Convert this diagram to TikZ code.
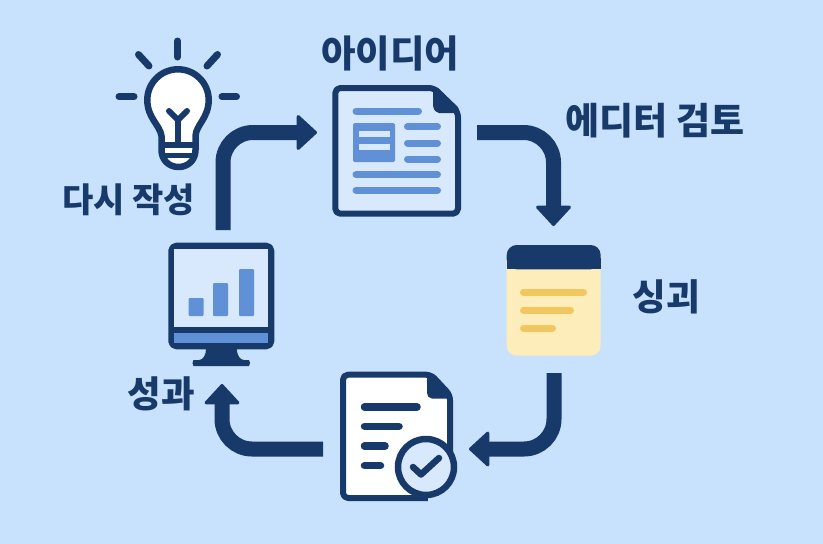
\documentclass[tikz,border=0pt]{standalone}
\usepackage{fontspec}
\newfontfamily\krfont{Noto Sans CJK KR}
\usetikzlibrary{arrows.meta}
\definecolor{bgblue}{HTML}{C8E1FD}
\definecolor{navy}{HTML}{173A6A}
\definecolor{midblue}{HTML}{6090D6}
\definecolor{paleblue}{HTML}{D9E9FD}
\definecolor{notecream}{HTML}{FDEDBB}
\definecolor{noteline}{HTML}{F3C75F}
\tikzset{
  flow/.style={draw=navy,line width=15pt,rounded corners=30pt,line cap=butt,
    -{Triangle[length=21pt,width=38pt,round,line width=3pt,color=navy]}},
  label/.style={text=navy,font=\krfont\bfseries\fontsize{#1}{#1}\selectfont,inner sep=0pt},
  outline/.style={draw=navy,line width=6pt,line join=round},
  ray/.style={draw=navy,line width=7pt,line cap=round},
  bluebar/.style={draw=midblue,line width=7pt,line cap=round},
  navybar/.style={draw=navy,line width=7.5pt,line cap=round},
  yellowbar/.style={draw=noteline,line width=7pt,line cap=round}
}
\begin{document}
\begin{tikzpicture}[x=1pt,y=-1pt]
\useasboundingbox (0,0) rectangle (823,544);
\fill[bgblue] (0,0) rectangle (823,544);

% named ends of the connectors
\coordinate (mOut) at (223,230);
\coordinate (dIn) at (317,132.5);
\coordinate (dOut) at (477,132.5);
\coordinate (nIn) at (553.5,226);
\coordinate (nOut) at (554,373);
\coordinate (cIn) at (469,449);
\coordinate (cOut) at (323,449);
\coordinate (mIn) at (222,384);

% light bulb
\draw[ray] (177.5,41) -- (177.5,57);
\draw[ray] (138.5,54.5) -- (149,66);
\draw[ray] (217.5,54.5) -- (207,66);
\draw[ray] (119,96.7) -- (134,96.7);
\draw[ray] (222,96.7) -- (236.5,96.7);
\draw[outline,line width=6.5pt,fill=white] (161.5,145) -- (161.5,136)
  .. controls (160,125) and (147.3,118) .. (147.3,100)
  arc[start angle=180,end angle=360,radius=30.7]
  .. controls (208.7,118) and (196,125) .. (195.5,136) -- (195.5,150)
  .. controls (195.5,160) and (188,167) .. (178.5,167)
  .. controls (169,167) and (161.5,160) .. (161.5,150) -- cycle;
\fill[navy] (160,141.5) rectangle (197,147.5);
\fill[navy] (160,152.5) rectangle (197,158);
\draw[navy,line width=6pt,line cap=round,line join=round] (169,111) -- (178,120) -- (187,111);
\draw[navy,line width=6pt] (178,120) -- (178,142);

% idea document
\draw[outline,fill=paleblue,rounded corners=5pt] (335.3,88) -- (434,88) -- (458,112) -- (458,213.7) -- (335.3,213.7) -- cycle;
\fill[navy,rounded corners=2pt] (433,87) -- (433,108) -- (437,113) -- (459,113) -- (459,108) -- (437,87) -- cycle;
\draw[bluebar] (356,111) -- (418.5,111);
\fill[midblue,rounded corners=1.5pt] (353,123) rectangle (395,162);
\fill[paleblue] (358.5,130.5) rectangle (389.5,137.2);
\fill[paleblue] (358.5,144) rectangle (389.5,150);
\draw[bluebar] (407.5,126.7) -- (437.5,126.7);
\draw[bluebar] (407.5,143) -- (437.5,143);
\draw[bluebar] (407.5,159) -- (437.5,159);
\draw[bluebar] (356,174.7) -- (437.5,174.7);
\draw[bluebar] (356,190.3) -- (437.5,190.3);

% note
\fill[notecream,rounded corners=10pt] (506.7,245) rectangle (600.7,355.7);
\fill[navy,rounded corners=10pt] (506.7,269.3) -- (506.7,245) -- (600.7,245) -- (600.7,269.3) -- cycle;
\fill[navy] (506.7,258) rectangle (600.7,269.3);
\draw[yellowbar] (523.5,292) -- (583.5,292);
\draw[yellowbar] (523.5,310) -- (570.5,310);
\draw[yellowbar] (523.5,328) -- (552.5,328);

% checked document
\draw[outline,fill=white,rounded corners=5pt] (343,374.7) -- (431,374.7) -- (450,395) -- (450,498) -- (343,498) -- cycle;
\fill[navy,rounded corners=2pt] (427,373) -- (427,395) -- (430,398.5) -- (451,398.5) -- (451,394) -- (432,373) -- cycle;
\draw[navybar] (364.5,407) -- (417,407);
\draw[navybar] (364.5,426.3) -- (399,426.3);
\draw[navybar] (364.5,446) -- (385,446);
\draw[navybar] (364.5,465.7) -- (380.5,465.7);
\fill[bgblue] (428,470) rectangle (456,503);
\draw[navy,line width=6.5pt,fill=paleblue] (426,467) circle[radius=28];
\draw[navy,line width=6.5pt,line cap=round,line join=round] (413,467) -- (421,474.5) -- (439,458);

% monitor
\fill[navy,rounded corners=2pt] (206,347) -- (236.7,347) .. controls (237,355) and (240,360) .. (246,360)
  -- (247,360) arc[start angle=-90,end angle=90,radius=3] -- (195.5,366) arc[start angle=90,end angle=270,radius=3]
  -- (197,360) .. controls (203,360) and (206,355) .. (206,347) -- cycle;
\draw[outline,fill=navy,rounded corners=5pt] (171.3,245.7) rectangle (271.3,346.3);
\fill[paleblue] (174.3,248.8) rectangle (268.3,326.7);
\fill[midblue] (174.3,332.7) rectangle (268.3,343.3);
\fill[midblue,rounded corners=1pt] (188.7,298) rectangle (203.7,316);
\fill[midblue,rounded corners=1pt] (213,283) rectangle (228,316);
\fill[midblue,rounded corners=1pt] (239,269) rectangle (254,316);

% connectors
\draw[flow] (mOut) |- (dIn);
\draw[flow] (dOut) -| (nIn);
\draw[flow] (nOut) |- (cIn);
\draw[flow] (cOut) -| (mIn);

% labels
\node[label=37.5] (lIdea) at (390,53) {아이디어};
\node[label=37] (lEditor) at (655,120.5) {에디터 검토};
\node[label=34] (lRewrite) at (128.5,200) {다시 작성};
\node[label=36.5] (lLesson) at (666,296.5) {싱괴};
\node[label=36.5] (lResult) at (161,394) {성과};
\end{tikzpicture}
\end{document}
